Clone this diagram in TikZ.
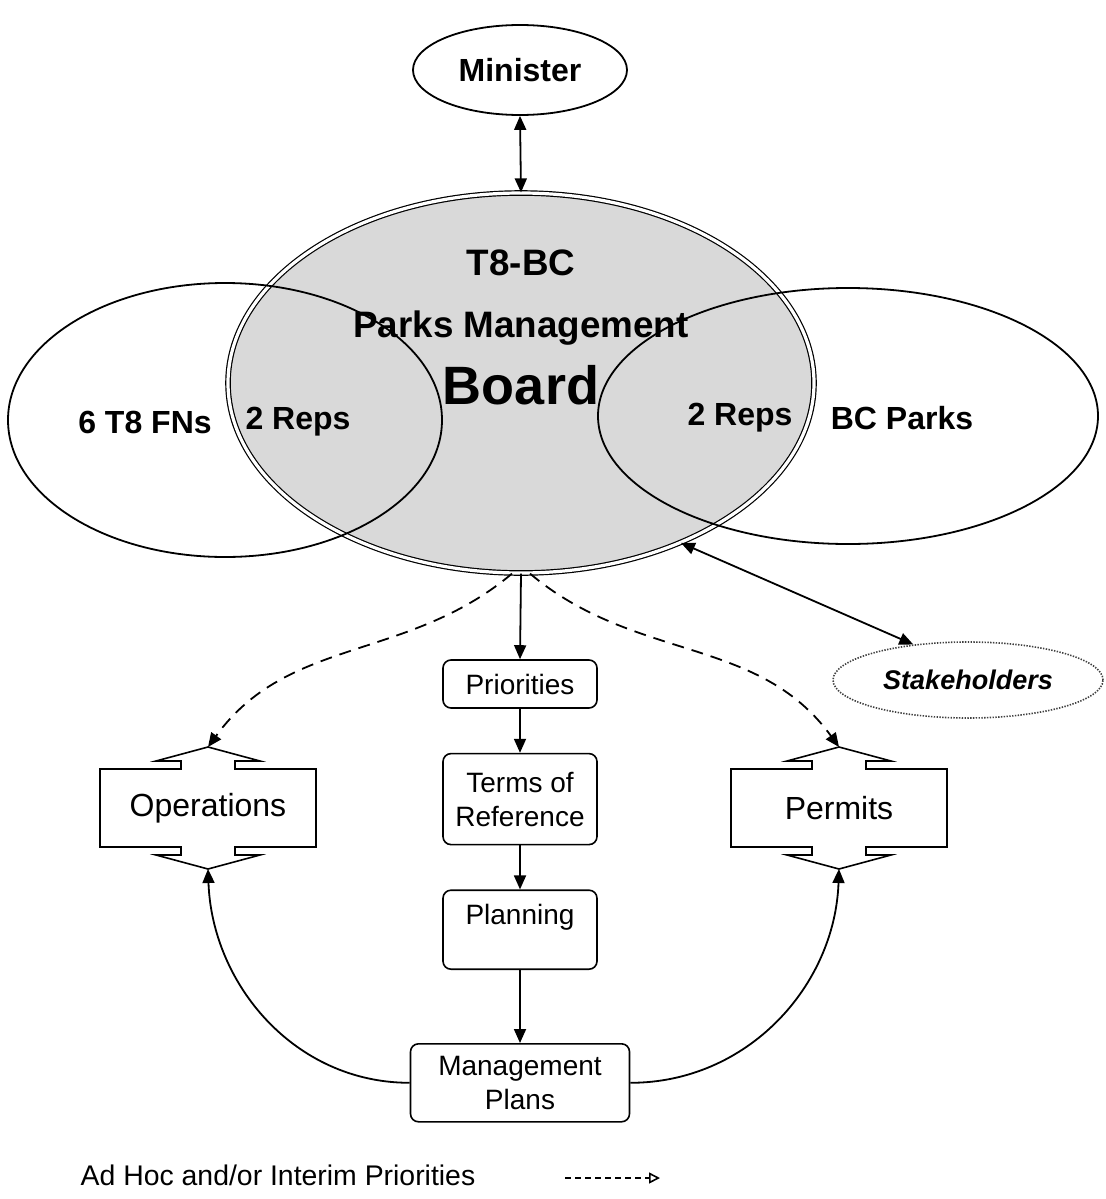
\documentclass[tikz,border=0pt]{standalone}
\usepackage{fontspec}
\setmainfont{Liberation Sans}
\usetikzlibrary{arrows.meta,positioning,shapes.geometric}

\begin{document}
\begin{tikzpicture}[
x=0.5pt, y=-0.5pt,
node distance=22pt,
oval/.style={draw, ellipse, inner sep=0pt, line width=0.9pt},
label16/.style={font=\fontsize{16}{19}\selectfont\bfseries},
stepbox/.style={draw, rounded corners=4pt, minimum width=77pt, align=center, line width=0.8pt, font=\fontsize{14}{17}\selectfont},
notchtxt/.style={font=\fontsize{16}{19}\selectfont},
arr/.style={-{Triangle[length=7pt,width=6pt]}, line width=0.9pt},
dblarr/.style={{Triangle[length=7pt,width=6pt]}-{Triangle[length=7pt,width=6pt]}, line width=0.9pt},
dasharr/.style={arr, dash pattern=on 6pt off 4pt}
]
\useasboundingbox (0,0) rectangle (1105,1199);

% board and the two parties
\node[oval, fill=black!15, double, double distance=1.6pt, line width=0.6pt,
  minimum width=293pt, minimum height=190pt] (board) at (521,383) {};
\node[oval, minimum width=217pt, minimum height=137pt] (fns) at (225,420) {};
\node[oval, minimum width=250pt, minimum height=128pt] (parks) at (848,416) {};

\node[font=\fontsize{18.4}{31}\selectfont\bfseries, align=center] (boardtitle) at (521,298) {T8-BC\\Parks Management};
\node[font=\fontsize{27}{30}\selectfont\bfseries] (boardname) at (521,385) {Board};
\node[label16] (fnsname) at (145,422) {6 T8 FNs};
\node[label16] (fnsreps) at (298,422) {2 Reps};
\node[label16] (parksreps) at (740,418) {2 Reps};
\node[label16] (parksname) at (902,418) {BC Parks};

\node[oval, label16, minimum width=107pt, minimum height=45pt] (minister) at (520,70) {Minister};
\draw[dblarr] (minister.south) -- (board.north);

\node[oval, line width=0.8pt, draw=black!75, dash pattern=on 0.7pt off 0.7pt, minimum width=135pt, minimum height=38pt,
  font=\fontsize{13.5}{16}\selectfont\bfseries\itshape] (stake) at (968,680) {Stakeholders};
\draw[dblarr] (board.-45.5) -- (stake.147);

% planning chain
\node[stepbox, minimum height=24pt] (prio) at (520,684) {Priorities};
\node[stepbox, minimum height=45.5pt, below=22pt of prio] (terms) {Terms of\\Reference};
\node[stepbox, minimum height=39.5pt, text depth=15pt, below=22pt of terms] (plan) {Planning};
\node[stepbox, minimum width=109.5pt, minimum height=39pt, below=36.5pt of plan] (mgmt) {Management\\Plans};

\draw[arr] (board.south) -- (prio.north);
\draw[arr] (prio) -- (terms);
\draw[arr] (terms) -- (plan);
\draw[arr] (plan) -- (mgmt);

% operations and permits
\foreach \nm/\cx/\txt in {ops/208/Operations, perm/839/Permits} {
  \node[notchtxt] (\nm) at (\cx,808) {\txt};
  \begin{scope}[shift={(\nm.center)}]
    \draw[line width=0.8pt] (-27,-39) -- (-108,-39) -- (-108,39) -- (-27,39) -- (-27,47) -- (-52,47)
      -- (0,61) -- (52,47) -- (27,47) -- (27,39) -- (108,39) -- (108,-39) -- (27,-39)
      -- (27,-47) -- (52,-47) -- (0,-61) -- (-52,-47) -- (-27,-47) -- cycle;
    \coordinate (\nm-top) at (0,-61);
    \coordinate (\nm-bot) at (0,61);
  \end{scope}
}

\draw[dasharr] ([xshift=-4.5pt]board.south) to[out=-140,in=54] (ops-top);
\draw[dasharr] ([xshift=4.5pt]board.south) to[out=-40,in=126] (perm-top);
\draw[arr] (mgmt.west) to[out=180,in=-88] (ops-bot);
\draw[arr] (mgmt.east) to[out=0,in=-92] (perm-bot);

% legend
\node[font=\fontsize{14.2}{17}\selectfont] (legend) at (278,1175) {Ad Hoc and/or Interim Priorities};
\coordinate (legA) at (565,1178);
\coordinate (legB) at (660,1178);
\draw[-{Triangle[open,length=5.5pt,width=5.5pt]}, line width=0.8pt, dash pattern=on 3pt off 2pt] (legA) -- (legB);
\end{tikzpicture}
\end{document}
